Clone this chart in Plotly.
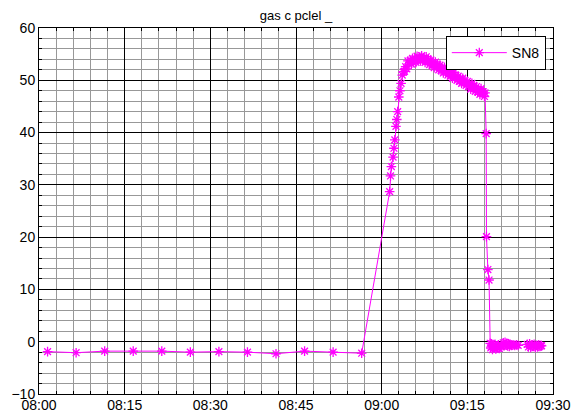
import plotly.graph_objects as go
import pandas as pd

# minutes after 08:00
t_min = [1.5, 6.5, 11.5, 16.5, 21.5, 26.5, 31.5, 36.5, 41.5, 46.5, 51.5, 56.5,
         61.4, 61.55, 61.7, 62.0, 62.15, 62.3, 62.5, 62.65, 62.8, 63.0, 63.2, 63.4,
         63.6,
         63.8, 64.0, 64.2, 64.4, 64.6, 64.8, 65.0, 65.2, 65.4, 65.6, 65.8, 66.0,
         66.2, 66.4, 66.6, 66.8, 67.0, 67.2, 67.4, 67.6, 67.8, 68.0, 68.2, 68.4,
         68.6, 68.8, 69.0, 69.2, 69.4, 69.6, 69.8, 70.0, 70.2, 70.4, 70.6, 70.8,
         71.0, 71.2, 71.4, 71.6, 71.8, 72.0, 72.2, 72.4, 72.6, 72.8, 73.0, 73.2,
         73.4, 73.6, 73.8, 74.0, 74.2, 74.4, 74.6, 74.8, 75.0, 75.2, 75.4, 75.6,
         75.8, 76.0, 76.2, 76.4, 76.6, 76.8, 77.0, 77.2, 77.4, 77.6, 77.8, 78.0,
         78.1,
         78.3, 78.35, 78.6, 78.8, 79.0,
         79.1, 79.25, 79.4, 79.55, 79.7, 79.85, 80.0, 80.15, 80.3, 80.45, 80.6,
         80.75, 80.9, 81.0,
         81.3, 81.45, 81.6, 81.75, 81.9, 82.05, 82.2, 82.35, 82.5, 82.7, 83.0,
         83.3, 83.6, 83.9,
         85.5, 85.7, 85.9, 86.1, 86.3, 86.5, 86.7, 86.9, 87.1, 87.3, 87.5, 87.7,
         87.9, 88.0]

sn8 = [-1.9, -2.1, -1.8, -1.8, -1.8, -2.0, -1.9, -2.0, -2.3, -1.8, -2.0, -2.2,
       28.7, 31.7, 33.5, 35.3, 37.0, 38.6, 41.2, 42.5, 44.0, 46.8, 48.0, 49.4,
       51.0,
       51.6, 51.7, 52.6, 52.2, 53.7, 53.1, 53.8, 53.1, 54.2, 53.4, 54.1, 53.4,
       54.6, 53.9, 54.4, 53.7, 54.7, 53.8, 54.3, 53.4, 54.5, 53.6, 53.9, 53.0,
       53.9, 52.9, 53.4, 52.4, 53.5, 52.6, 53.0, 52.0, 52.9, 51.9, 52.3, 51.4,
       52.5, 51.6, 51.9, 51.0, 51.9, 50.8, 51.3, 50.4, 51.5, 50.5, 50.9, 50.0,
       50.8, 49.8, 50.3, 49.4, 50.4, 49.5, 49.9, 49.0, 49.8, 48.8, 49.3, 48.3,
       49.4, 48.5, 48.9, 47.9, 48.8, 47.8, 48.2, 47.3, 48.4, 47.5, 47.8, 46.9,
       47.6,
       39.8, 20.1, 13.8, 11.8, -0.3,
       -1.2, -0.4, -1.5, -0.7, -1.1, -0.5, -1.4, -0.8, -1.2, -0.6, -1.3,
       -0.9, -1.0, -0.8,
       -0.2, -0.7, -0.1, -0.6, -0.3, -0.8, -0.4, -0.9, -0.5, -0.7, -0.6,
       -0.7, -0.6, -0.7,
       -0.5, -1.0, -0.4, -1.1, -0.6, -0.9, -0.5, -1.1, -0.7, -1.0, -0.6, -0.9,
       -0.7, -0.8]

base = pd.Timestamp("2024-01-01 08:00:00")
times = [base + pd.Timedelta(minutes=m) for m in t_min]

x_start = "2024-01-01 08:00:00"
x_end = "2024-01-01 09:30:00"
y_range = [-10, 60]
title_text = "gas c pclel _"
series_name = "SN8"

color = "#FF00FF"
font_family = "Liberation Sans, Arial, sans-serif"

# page body has an 8px default margin, so the figure is drawn 8px smaller
W, H = 574, 408
ML, MR, MT, MB = 31, 29, 20, 22

fig = go.Figure()
fig.add_trace(go.Scatter(
    x=times, y=sn8, mode="lines+markers", name=series_name,
    line=dict(color=color, width=1),
    marker=dict(symbol="asterisk-open", size=8, color=color,
                line=dict(color=color, width=1.3)),
))

axis_common = dict(
    showline=True, linecolor="black", linewidth=1, mirror="ticks",
    ticks="inside", ticklen=5, tickcolor="black",
    showgrid=True, gridcolor="black", gridwidth=1,
    zeroline=False,
    tickfont=dict(family=font_family, size=14, color="black"),
    automargin=False,
)

fig.update_xaxes(
    type="date", range=[x_start, x_end], dtick=900000, tick0=x_start,
    tickformat="%H:%M", ticklabelstandoff=-2,
    minor=dict(dtick=180000, showgrid=True, gridcolor="#989898", gridwidth=1,
               ticks="inside", ticklen=3, tickcolor="black"),
    **axis_common,
)
fig.update_yaxes(
    range=y_range, dtick=10, tick0=0,
    minor=dict(dtick=2, showgrid=True, gridcolor="#989898", gridwidth=1,
               ticks="inside", ticklen=3, tickcolor="black"),
    **axis_common,
)

fig.update_layout(
    width=W, height=H,
    margin=dict(l=ML, r=MR, t=MT, b=MB),
    paper_bgcolor="white", plot_bgcolor="white",
    title=dict(text=title_text, x=(ML + (W - MR)) / 2 / W, xanchor="center",
               yref="container", y=1 - 7 / H, yanchor="middle",
               font=dict(family=font_family, size=13, color="black")),
    showlegend=True,
    legend=dict(x=0.986, xanchor="right", y=0.978, yanchor="top",
                bgcolor="white", bordercolor="black", borderwidth=1,
                itemwidth=55,
                font=dict(family=font_family, size=14, color="black")),
    font=dict(family=font_family),
)

fig.write_html("out.html")
